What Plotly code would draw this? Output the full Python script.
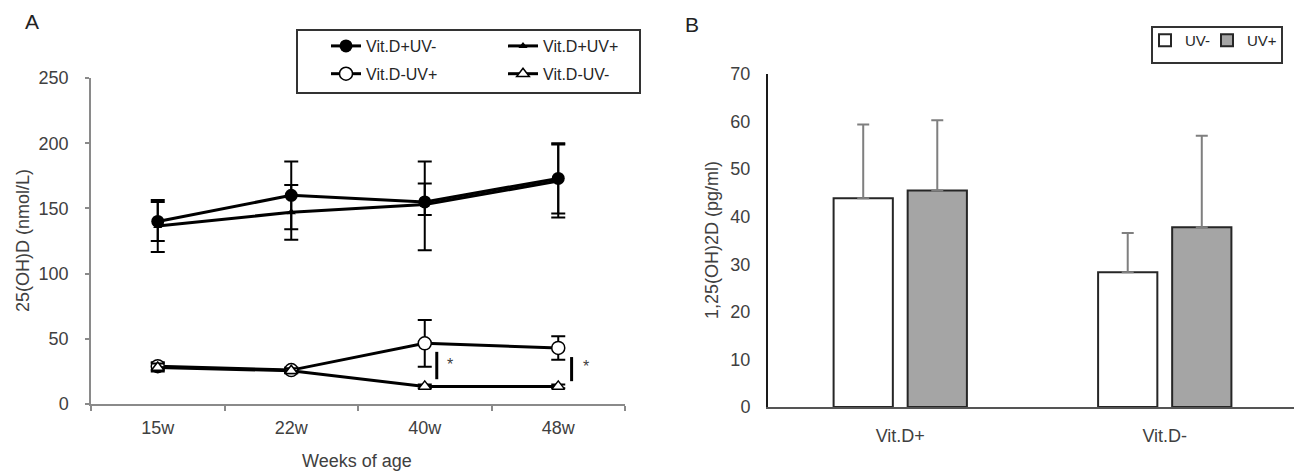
import plotly.graph_objects as go

# ---------------- Data ----------------
weeks = ["15w", "22w", "40w", "48w"]

vd_pos_uv_neg = [140, 160, 155, 173]
vd_pos_uv_neg_err_up = [15, 26, 31, 27]
vd_pos_uv_neg_err_dn = [15, 26, 37, 27]

vd_pos_uv_pos = [136.5, 147, 153, 171]
vd_pos_uv_pos_err_up = [20, 21, 16, 28]
vd_pos_uv_pos_err_dn = [20, 21, 8, 28]

vd_neg_uv_pos = [29, 26, 46.5, 43]
vd_neg_uv_pos_err = [3, 2, 18, 9]

vd_neg_uv_neg = [28, 25.5, 13.5, 13.5]
vd_neg_uv_neg_err = [3, 2, 1.5, 1.5]

groups = ["Vit.D+", "Vit.D-"]
uv_neg = [43.9, 28.3]
uv_neg_err = [15.5, 8.3]
uv_pos = [45.5, 37.8]
uv_pos_err = [14.8, 19.2]

# page body has an 8px default margin: size the figure so it fills the window
PAGE_W, PAGE_H = 1302, 473
OFF = 8
W, H = PAGE_W - OFF, PAGE_H - OFF
FONT = "Liberation Sans, Arial, sans-serif"
TXT = "#404040"


def px_x(p):
    return (p - OFF) / W


def px_y(p):
    return 1 - (p - OFF) / H


fig = go.Figure()

ebar = dict(color="black", thickness=2, width=7)

# Panel A traces
fig.add_trace(go.Scatter(
    x=weeks, y=vd_pos_uv_pos, name="Vit.D+UV+", mode="lines+markers",
    line=dict(color="black", width=3),
    marker=dict(symbol="triangle-up", size=8, color="black"),
    error_y=dict(type="data", symmetric=False, array=vd_pos_uv_pos_err_up,
                 arrayminus=vd_pos_uv_pos_err_dn, **ebar),
    xaxis="x", yaxis="y", legend="legend2", legendgroup="a3", legendrank=1))
fig.add_trace(go.Scatter(
    x=weeks, y=vd_pos_uv_neg, name="Vit.D+UV-", mode="lines+markers",
    line=dict(color="black", width=3),
    marker=dict(symbol="circle", size=13, color="black"),
    error_y=dict(type="data", symmetric=False, array=vd_pos_uv_neg_err_up,
                 arrayminus=vd_pos_uv_neg_err_dn, **ebar),
    xaxis="x", yaxis="y", legend="legend", legendgroup="a1", legendrank=1))
fig.add_trace(go.Scatter(
    x=weeks, y=vd_neg_uv_pos, name="Vit.D-UV+", mode="lines+markers",
    line=dict(color="black", width=3),
    marker=dict(symbol="circle", size=13, color="white",
                line=dict(color="black", width=1.5)),
    error_y=dict(type="data", array=vd_neg_uv_pos_err, **ebar),
    xaxis="x", yaxis="y", legend="legend", legendgroup="a2", legendrank=2))
fig.add_trace(go.Scatter(
    x=weeks, y=vd_neg_uv_neg, name="Vit.D-UV-", mode="lines+markers",
    line=dict(color="black", width=3),
    marker=dict(symbol="triangle-up", size=11, color="white",
                line=dict(color="black", width=1.5)),
    error_y=dict(type="data", array=vd_neg_uv_neg_err, **ebar),
    xaxis="x", yaxis="y", legend="legend2", legendgroup="a4", legendrank=2))

# Panel B traces
bar_err = dict(color="#7f7f7f", thickness=2, width=6)
fig.add_trace(go.Bar(
    x=groups, y=uv_neg, name="UV-",
    marker=dict(color="white", line=dict(color="#262626", width=2)),
    error_y=dict(type="data", symmetric=False, array=uv_neg_err,
                 arrayminus=[0, 0], **bar_err),
    xaxis="x2", yaxis="y2", legend="legend3"))
fig.add_trace(go.Bar(
    x=groups, y=uv_pos, name="UV+",
    marker=dict(color="#a5a5a5", line=dict(color="#262626", width=2)),
    error_y=dict(type="data", symmetric=False, array=uv_pos_err,
                 arrayminus=[0, 0], **bar_err),
    xaxis="x2", yaxis="y2", legend="legend4"))

tickfont = dict(family=FONT, size=18, color=TXT)
legfont = dict(family=FONT, size=16, color="#262626")
legB = dict(family=FONT, size=15, color="#262626")

fig.update_layout(
    width=W, height=H,
    margin=dict(l=0, r=0, t=0, b=0, autoexpand=False),
    paper_bgcolor="white", plot_bgcolor="white",
    font=dict(family=FONT, color=TXT),
    barmode="group", bargap=0.44, bargroupgap=0.2,
    xaxis=dict(domain=[px_x(91), px_x(625)], anchor="y", type="category",
               range=[-0.5, 3.5], showline=True, linecolor="#8a8a8a", linewidth=1.5,
               ticks="outside", ticklen=5, tickcolor="#8a8a8a", tickwidth=1.5,
               tickson="boundaries", showgrid=False, zeroline=False,
               tickfont=tickfont, ticklabelstandoff=7),
    yaxis=dict(domain=[px_y(404), px_y(78)], anchor="x", range=[0, 250], dtick=50,
               showline=True, linecolor="#8a8a8a", linewidth=1.5,
               ticks="outside", ticklen=4, tickcolor="#8a8a8a", tickwidth=1.5,
               showgrid=False, zeroline=False, tickfont=tickfont,
               ticklabelstandoff=13),
    xaxis2=dict(domain=[px_x(768), px_x(1297)], anchor="y2", type="category",
                range=[-0.5, 1.5], showline=True, linecolor="#555555", linewidth=2,
                ticks="", showgrid=False, zeroline=False, tickfont=tickfont,
                ticklabelstandoff=11),
    yaxis2=dict(domain=[px_y(407), px_y(74)], anchor="x2", range=[0, 70], dtick=10,
                showline=True, linecolor="#1a1a1a", linewidth=2, ticks="",
                showgrid=False, zeroline=False, tickfont=tickfont,
                ticklabelstandoff=12),
    legend=dict(x=px_x(326), y=px_y(29), xanchor="left", yanchor="top",
                bgcolor="rgba(0,0,0,0)", borderwidth=0, traceorder="grouped",
                font=legfont, tracegroupgap=4),
    legend2=dict(x=px_x(503), y=px_y(29), xanchor="left", yanchor="top",
                 bgcolor="rgba(0,0,0,0)", borderwidth=0, traceorder="grouped",
                 font=legfont, tracegroupgap=4),
    legend3=dict(x=px_x(1145), y=px_y(24), xanchor="left", yanchor="top",
                 bgcolor="rgba(0,0,0,0)", borderwidth=0, font=legB),
    legend4=dict(x=px_x(1207), y=px_y(24), xanchor="left", yanchor="top",
                 bgcolor="rgba(0,0,0,0)", borderwidth=0, font=legB),
)

# Legend frames
fig.add_shape(type="rect", xref="paper", yref="paper",
              x0=px_x(297), x1=px_x(640), y0=px_y(93), y1=px_y(30),
              line=dict(color="#333333", width=2), fillcolor="rgba(0,0,0,0)")
fig.add_shape(type="rect", xref="paper", yref="paper",
              x0=px_x(1152), x1=px_x(1282), y0=px_y(63), y1=px_y(27),
              line=dict(color="#333333", width=2), fillcolor="rgba(0,0,0,0)")

# Significance markers
fig.add_shape(type="line", xref="x", yref="y", x0=2.09, x1=2.09, y0=19, y1=40,
              line=dict(color="black", width=3))
fig.add_shape(type="line", xref="x", yref="y", x0=3.10, x1=3.10, y0=17.5, y1=36,
              line=dict(color="black", width=3))

C = dict(xanchor="center", yanchor="middle", showarrow=False)
ann = [
    dict(x=2.19, y=30, xref="x", yref="y", text="*",
         font=dict(family=FONT, size=16, color=TXT), **C),
    dict(x=3.21, y=28.5, xref="x", yref="y", text="*",
         font=dict(family=FONT, size=16, color=TXT), **C),
    dict(x=px_x(32), y=1.0, xref="paper", yref="paper", text="A",
         xanchor="center", yanchor="top", showarrow=False,
         font=dict(family=FONT, size=21, color="#222")),
    dict(x=px_x(692), y=px_y(11), xref="paper", yref="paper", text="B",
         xanchor="center", yanchor="top", showarrow=False,
         font=dict(family=FONT, size=21, color="#222")),
    dict(x=px_x(23), y=px_y(241), xref="paper", yref="paper",
         text="25(OH)D (nmol/L)", textangle=-90,
         font=dict(family=FONT, size=18, color=TXT), **C),
    dict(x=px_x(712), y=px_y(240), xref="paper", yref="paper",
         text="1,25(OH)2D (pg/ml)", textangle=-90,
         font=dict(family=FONT, size=18, color=TXT), **C),
    dict(x=px_x(357), y=px_y(461), xref="paper", yref="paper",
         text="Weeks of age", font=dict(family=FONT, size=18, color=TXT), **C),
]
fig.update_layout(annotations=ann)

fig.write_html("out.html")
